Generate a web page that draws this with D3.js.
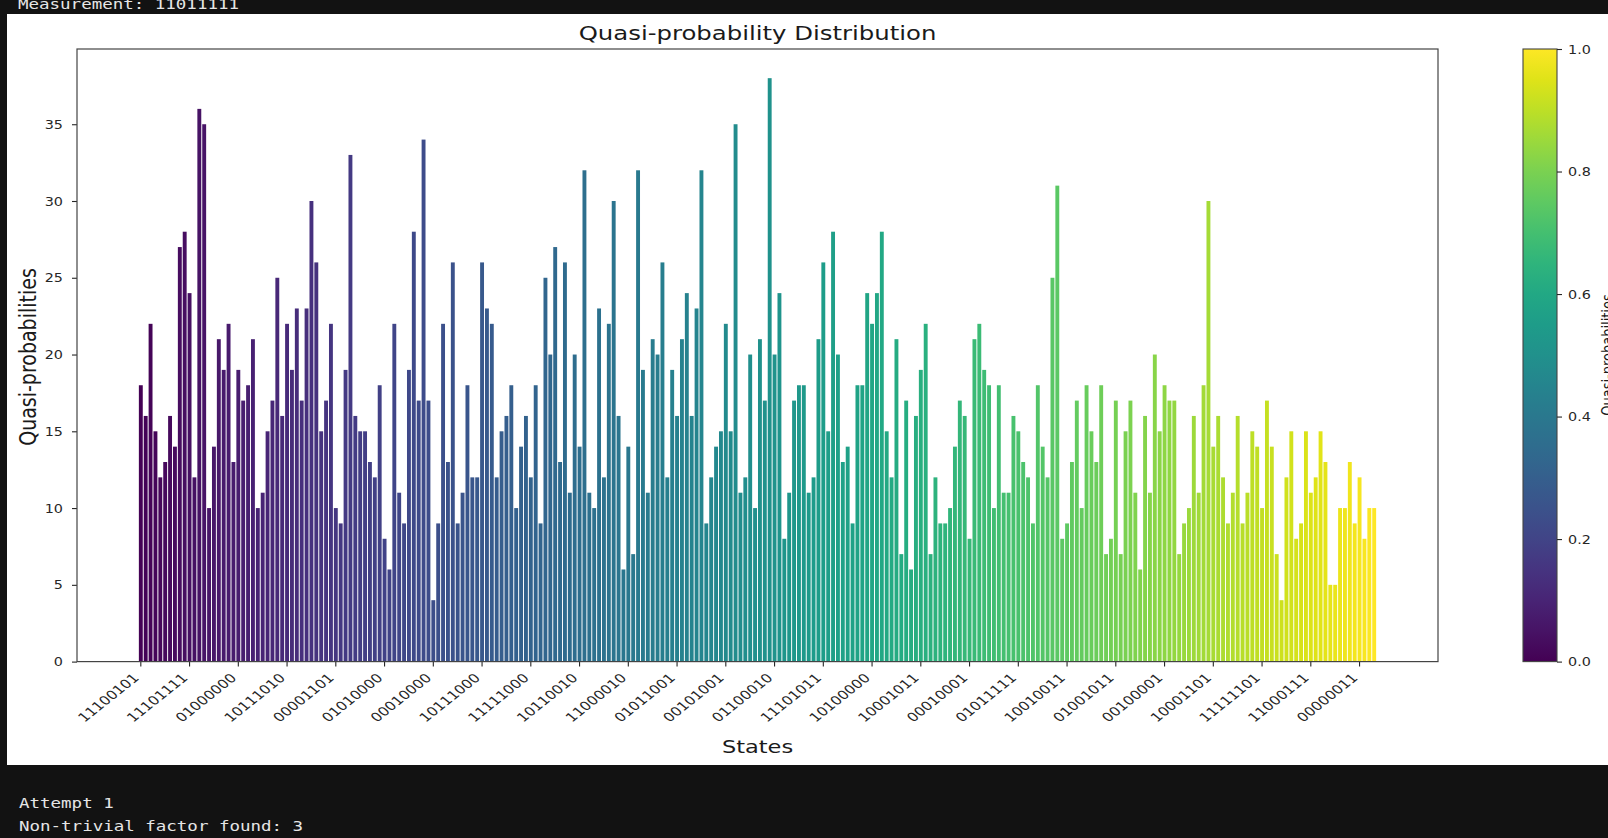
<!DOCTYPE html>
<html><head><meta charset="utf-8">
<script src="https://cdn.jsdelivr.net/npm/d3@7"></script>
<style>
html,body{margin:0;padding:0;background:#121212;overflow:hidden;}
svg{display:block;}
</style></head><body>
<svg id="c" width="1608" height="838"></svg>
<script>
// ---------------- data ----------------
const values = [
 18,16,22,15,12,13,16,14,27,28, 24,12,36,35,10,14,21,19,22,13,
 19,17,18,21,10,11,15,17,25,16, 22,19,23,17,23,30,26,15,17,22,
 10,9,19,33,16,15,15,13,12,18, 8,6,22,11,9,19,28,17,34,17,
 4,9,22,13,26,9,11,18,12,12, 26,23,22,12,15,16,18,10,14,16,
 12,18,9,25,20,27,13,26,11,20, 14,32,11,10,23,12,22,30,16,6,
 14,7,32,19,11,21,20,26,12,19, 16,21,24,16,23,32,9,12,14,15,
 22,15,35,11,12,20,10,21,17,38, 20,24,8,11,17,18,18,11,12,21,
 26,15,28,20,13,14,9,18,18,24, 22,24,28,15,12,21,7,17,6,16,
 19,22,7,12,9,9,10,14,17,16, 8,21,22,19,18,10,18,11,11,16,
 15,13,12,9,18,14,12,25,31,8, 9,13,17,10,18,15,13,18,7,8,
 17,7,15,17,11,6,16,11,20,15, 18,17,17,7,9,10,16,11,18,30,
 14,16,12,9,11,16,9,11,15,14, 10,17,14,7,4,12,15,8,9,15,
 11,12,15,13,5,5,10,10,13,9, 12,8,10,10
];
const tickLabels = ["11100101","11101111","01000000","10111010","00001101","01010000",
 "00010000","10111000","11111000","10110010","11000010","01011001","00101001",
 "01100010","11101011","10100000","10001011","00010001","01011111","10010011",
 "01001011","00100001","10001101","11111101","11000111","00000011"];
const yTickValues = [0,5,10,15,20,25,30,35];
const colorbarTicks = [0,0.2,0.4,0.6,0.8,1.0];
const titleText = "Quasi-probability Distribution";
const xLabelText = "States";
const yLabelText = "Quasi-probabilities";
const cbLabelText = "Quasi-probabilities";
const consoleTop = "Measurement: 11011111";
const consoleLines = ["Attempt 1","Non-trivial factor found: 3"];

// ---------------- layout ----------------
const W = 1608, H = 838;
const S = 1.25;                 // horizontal stretch of the screenshot
const L = 77, R = 1438, T = 49, B = 661.6;
const CBL = 1523, CBR = 1557;
const sans = "'DejaVu Sans', sans-serif";
const mono = "'DejaVu Sans Mono', monospace";
const ink = "#262626";

const svg = d3.select("#c");
svg.append("rect").attr("width",W).attr("height",H).attr("fill","#121212");
svg.append("rect").attr("x",7).attr("y",14).attr("width",W-7).attr("height",765-14).attr("fill","#ffffff");

function stext(parent, x, y, txt, size, family, fill, anchor, extra){
  return parent.append("text")
    .attr("transform",`translate(${x},${y}) scale(${S},1)${extra||""}`)
    .attr("text-anchor",anchor||"start")
    .attr("font-family",family).attr("font-size",size).attr("fill",fill)
    .text(txt);
}

// console texts
stext(svg, 18, 9, consoleTop, 14, mono, "#e6e6e6");
consoleLines.forEach((t,i)=> stext(svg, 19, 808 + i*23, t, 14, mono, "#e6e6e6"));

// scales
const n = values.length;
const x = d3.scaleBand().domain(d3.range(n)).range([L,R])
  .paddingInner(0.2).paddingOuter(12.69).align(0.5);
const y = d3.scaleLinear().domain([0,39.9]).range([B,T]);
const color = i => d3.interpolateViridis(i/(n-1));

// bars
svg.append("g").selectAll("rect").data(values).join("rect")
  .attr("x",(d,i)=>x(i)).attr("width",x.bandwidth())
  .attr("y",d=>y(d)).attr("height",d=>y(0)-y(d))
  .attr("fill",(d,i)=>color(i));

// x axis
const gx = svg.append("g").attr("transform",`translate(0,${B})`)
  .call(d3.axisBottom(x).tickValues(d3.range(0,n,10))
        .tickFormat(i=>tickLabels[i/10]).tickSize(5));
gx.select(".domain").remove();
gx.selectAll(".tick line").attr("stroke",ink).attr("stroke-width",1.1);
gx.selectAll(".tick text")
  .attr("x",null).attr("y",null).attr("dy",null)
  .attr("text-anchor","end")
  .attr("transform",`translate(-1,17) scale(${S},1) rotate(-45)`)
  .attr("font-family",sans).attr("font-size",12.3).attr("fill",ink);

// y axis
const gy = svg.append("g").attr("transform",`translate(${L},0)`)
  .call(d3.axisLeft(y).tickValues(yTickValues).tickSize(5));
gy.select(".domain").remove();
gy.selectAll(".tick line").attr("stroke",ink).attr("stroke-width",1.1);
gy.selectAll(".tick text")
  .attr("x",null).attr("dy","0.36em")
  .attr("transform",`translate(-14,0) scale(${S},1)`)
  .attr("font-family",sans).attr("font-size",11.5).attr("fill",ink);

// frame
svg.append("rect").attr("x",L).attr("y",T).attr("width",R-L).attr("height",B-T)
  .attr("fill","none").attr("stroke","#444").attr("stroke-width",1.2);

// titles
stext(svg, (L+R)/2, 40, titleText, 19.5, sans, "#1a1a1a", "middle");
stext(svg, (L+R)/2, 753, xLabelText, 18, sans, "#1a1a1a", "middle");
svg.append("text")
  .attr("transform",`translate(36,357) scale(${S},1) rotate(-90)`)
  .attr("text-anchor","middle").attr("font-family",sans).attr("font-size",19)
  .attr("fill","#1a1a1a").text(yLabelText);

// colorbar
const defs = svg.append("defs");
const grad = defs.append("linearGradient").attr("id","vir")
  .attr("x1",0).attr("y1",1).attr("x2",0).attr("y2",0);
d3.range(0,1.0001,0.05).forEach(t=>grad.append("stop")
  .attr("offset",t).attr("stop-color",d3.interpolateViridis(t)));
svg.append("rect").attr("x",CBL).attr("y",T).attr("width",CBR-CBL).attr("height",B-T)
  .attr("fill","url(#vir)").attr("stroke","#444").attr("stroke-width",1.1);
const cb = d3.scaleLinear().domain([0,1]).range([B,T]);
const gc = svg.append("g").attr("transform",`translate(${CBR},0)`)
  .call(d3.axisRight(cb).tickValues(colorbarTicks).tickFormat(d3.format(".1f")).tickSize(5));
gc.select(".domain").remove();
gc.selectAll(".tick line").attr("stroke",ink).attr("stroke-width",1.1);
gc.selectAll(".tick text")
  .attr("x",null).attr("dy","0.36em")
  .attr("transform",`translate(11,0) scale(${S},1)`)
  .attr("font-family",sans).attr("font-size",11.5).attr("fill",ink);
svg.append("text")
  .attr("transform",`translate(1613,355) scale(${S},1) rotate(-90)`)
  .attr("text-anchor","middle").attr("font-family",sans).attr("font-size",13)
  .attr("fill","#1a1a1a").text(cbLabelText);
</script>
</body></html>
